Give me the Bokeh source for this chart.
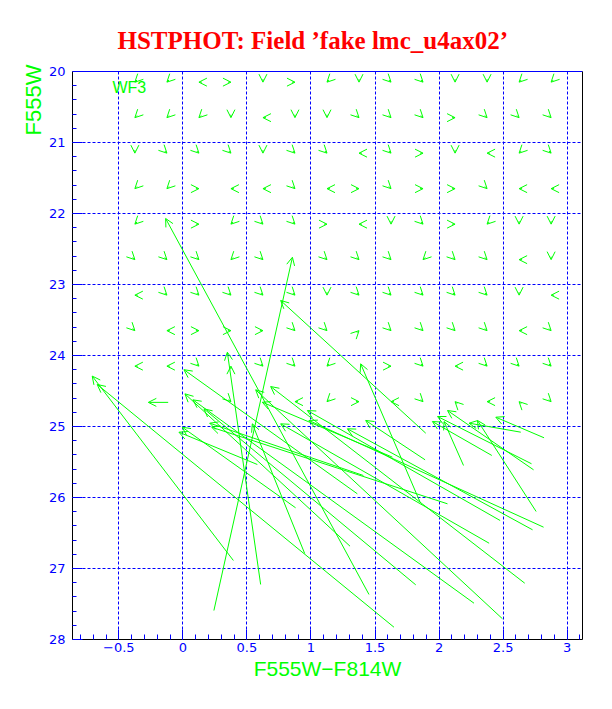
from bokeh.plotting import figure
from bokeh.models import (Arrow, OpenHead, ColumnDataSource, Label, LinearAxis,
                          FixedTicker, Range1d, Title)
from bokeh.embed import file_html
from bokeh.resources import INLINE

# ---------------- texts ----------------
TITLE = "HSTPHOT: Field \u2019fake lmc_u4ax02\u2019"
X_LABEL = "F555W\u2212F814W"
Y_LABEL = "F555W"
CHIP = "WF3"

# ---------------- ticks ----------------
x_ticks = [-0.5, 0, 0.5, 1, 1.5, 2, 2.5, 3]
x_tick_labels = ["\u22120.5", "0", "0.5", "1", "1.5", "2", "2.5", "3"]
y_ticks = [20, 21, 22, 23, 24, 25, 26, 27, 28]
y_tick_labels = ["20", "21", "22", "23", "24", "25", "26", "27", "28"]
y_grid = [21, 22, 23, 24, 25, 26, 27]
x_minor = [round(-0.8 + 0.1 * i, 1) for i in range(40)]
y_minor = [round(20 + 0.2 * i, 1) for i in range(1, 40)]

# ---------------- small arrows on the input grid ----------------
grid_cols = [-0.375, -0.125, 0.125, 0.375, 0.625, 0.875, 1.125,
             1.375, 1.625, 1.875, 2.125, 2.375, 2.625, 2.875]
grid_rows = [20.15, 20.65, 21.15, 21.65, 22.15, 22.65, 23.15, 23.65, 24.15, 24.65]
grid_dirs = [
    "SW SW W E S E SW S SE SE S S SW SW",
    "SW SW SW S W S S SE SE SE E SE SE SE",
    "S SE SE SE S SE SE W SE E S W SW SE",
    "SW SW E W W SE W E SE E E SE W W",
    "SW - E SW SE SE E W S SE E SW S S",
    "SE SE SE SW SE - SE SE SE SW SE SE W S",
    "W SE SE SE SE SE S SE SE SE SE SE S W",
    "SE W E E E SE SE NE SE SE SE SE W SE",
    "W W SE N SE SE SW - E SE W SE SE SE",
    "- - - SE - W SW E W SE NW W NW SE",
]

# ---------------- long arrows (head = upper-left end) ----------------
long_head_x = [-0.708, -0.669, -0.005, -0.031, 0.008, 0.016, 0.078, 0.164, 0.209, 0.224,
               -0.135, 0.855, 0.347, 0.763, 1.388, 2.300, 0.542, 0.568, 0.685, 0.763,
               0.972, 0.984, 1.284, 1.427, 2.066, 1.988, 1.948, 2.039, 2.443, 2.234,
               0.620, -0.270]
long_head_y = [24.290, 24.408, 25.010, 25.080, 24.200, 24.540, 24.624, 24.751, 24.953, 25.010,
               22.070, 22.616, 23.954, 23.225, 24.117, 24.915, 24.962, 24.483, 24.437, 24.962,
               24.775, 24.915, 25.032, 24.915, 24.775, 24.859, 24.930, 24.930, 24.869, 24.953,
               24.658, 24.660]
long_tail_x = [0.394, 1.648, 0.880, 0.581, 1.362, 1.305, 2.273, 1.818, 1.409, 2.066,
               1.453, 0.242, 0.607, 1.896, 1.852, 2.758, 0.951, 2.495, 2.669, 2.391,
               2.477, 2.816, 2.730, 1.891, 2.738, 2.722, 2.412, 2.191, 2.820, 2.638,
               1.636, -0.115]
long_tail_y = [26.887, 27.827, 26.145, 25.535, 25.948, 26.686, 27.489, 27.230, 25.690, 26.089,
               27.366, 27.592, 27.225, 25.094, 26.066, 26.197, 26.789, 27.708, 27.207, 26.644,
               26.324, 26.418, 26.455, 25.469, 25.610, 25.525, 25.408, 25.549, 25.159, 25.080,
               25.432, 24.660]

GREEN = "#00ff00"
BLUE = "#0000ff"
RED = "#ff0000"

DIR_VEC = {"E": (1, 0), "W": (-1, 0), "S": (0, 1), "N": (0, -1),
           "SE": (0.707, 0.707), "SW": (-0.707, 0.707),
           "NE": (0.707, -0.707), "NW": (-0.707, -0.707)}

X0, X1 = -0.862, 3.12
p = figure(width=604, height=701, x_range=Range1d(X0, X1), y_range=Range1d(28, 20),
           output_backend="svg", toolbar_location=None,
           min_border_left=72, min_border_right=22, min_border_top=71, min_border_bottom=62,
           background_fill_color="white", border_fill_color="white")
p.outline_line_color = None

# axes
p.xaxis.ticker = FixedTicker(ticks=x_ticks, minor_ticks=x_minor)
p.xaxis.major_label_overrides = {t: l for t, l in zip(x_ticks, x_tick_labels)}
p.yaxis.ticker = FixedTicker(ticks=y_ticks, minor_ticks=y_minor)
p.yaxis.major_label_overrides = {t: l for t, l in zip(y_ticks, y_tick_labels)}
for ax in (p.xaxis[0], p.yaxis[0]):
    ax.axis_line_color = "black"
    ax.axis_line_width = 1
    ax.major_tick_line_color = BLUE
    ax.minor_tick_line_color = BLUE
    ax.major_tick_out = 0
    ax.minor_tick_out = 0
    ax.major_label_text_color = BLUE
    ax.major_label_text_font = "DejaVu Sans"
    ax.major_label_text_font_size = "13px"
p.xaxis.major_tick_in = 10
p.xaxis.minor_tick_in = 5
p.yaxis.major_tick_in = 10
p.yaxis.minor_tick_in = 4
p.xaxis.major_label_standoff = 3
p.yaxis.major_label_standoff = 7

p.xaxis.axis_label = X_LABEL
p.xaxis.axis_label_text_font = "Liberation Sans"
p.xaxis.axis_label_text_font_size = "21px"
p.xaxis.axis_label_text_font_style = "normal"
p.xaxis.axis_label_text_color = GREEN
p.xaxis.axis_label_standoff = 2

top_ax = LinearAxis(ticker=FixedTicker(ticks=[]), axis_line_color=BLUE,
                    major_tick_line_color=None, minor_tick_line_color=None)
p.add_layout(top_ax, "above")
right_ax = LinearAxis(ticker=FixedTicker(ticks=[]), axis_line_color="black",
                      major_tick_line_color=None, minor_tick_line_color=None)
p.add_layout(right_ax, "right")

# grid
p.xgrid.ticker = FixedTicker(ticks=x_ticks)
p.ygrid.ticker = FixedTicker(ticks=y_grid)
for g in (p.xgrid[0], p.ygrid[0]):
    g.grid_line_color = BLUE
    g.grid_line_dash = "3 2"
    g.grid_line_width = 1

# small arrows
sx0, sy0, sx1, sy1 = [], [], [], []
PX_X = (X1 - X0) / 510.0
PX_Y = 8.0 / 568.0
for gy, row in zip(grid_rows, grid_dirs):
    for gx, d in zip(grid_cols, row.split()):
        if d == "-":
            continue
        ux, uy = DIR_VEC[d]
        sx1.append(gx)
        sy1.append(gy)
        sx0.append(gx - ux * 3 * PX_X)
        sy0.append(gy - uy * 3 * PX_Y)
small_src = ColumnDataSource(dict(xs=sx0, ys=sy0, xe=sx1, ye=sy1))
p.add_layout(Arrow(end=OpenHead(size=8, line_color=GREEN, line_width=1),
                   x_start="xs", y_start="ys", x_end="xe", y_end="ye",
                   source=small_src, line_color=GREEN, line_width=1))

long_src = ColumnDataSource(dict(xs=long_tail_x, ys=long_tail_y,
                                 xe=long_head_x, ye=long_head_y))
p.add_layout(Arrow(end=OpenHead(size=8, line_color=GREEN, line_width=1),
                   x_start="xs", y_start="ys", x_end="xe", y_end="ye",
                   source=long_src, line_color=GREEN, line_width=1))

# titles
p.add_layout(Title(text=TITLE, align="left", offset=45, text_font="Liberation Serif",
                   text_font_style="bold", text_font_size="25px", text_color=RED,
                   standoff=36), "above")
p.add_layout(Title(text=Y_LABEL, align="right", offset=-7, text_font="Liberation Sans",
                   text_font_style="normal", text_font_size="22px", text_color=GREEN,
                   standoff=0), "left")

p.add_layout(Label(x=-0.55, y=20.225, text=CHIP, text_font="Liberation Sans",
                   text_font_size="16px", text_color=GREEN,
                   text_align="left", text_baseline="middle"))

open("out.html", "w").write(file_html(p, INLINE))
